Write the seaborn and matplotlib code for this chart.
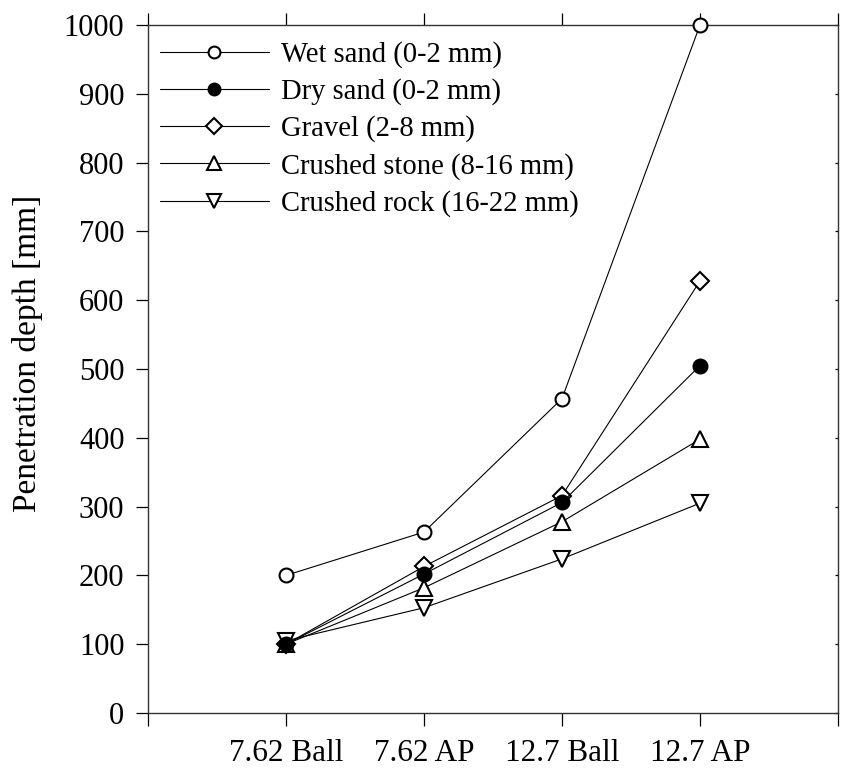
import matplotlib
matplotlib.use("Agg")
import matplotlib.pyplot as plt
import seaborn as sns
import pandas as pd

categories = ["7.62 Ball", "7.62 AP", "12.7 Ball", "12.7 AP"]
wet_sand = [200, 263, 457, 1000]
dry_sand = [100, 202, 306, 505]
gravel = [100, 213, 316, 628]
crushed_stone = [100, 182, 278, 398]
crushed_rock = [105, 153, 224, 305]

labels = ["Wet sand (0-2 mm)", "Dry sand (0-2 mm)", "Gravel (2-8 mm)",
          "Crushed stone (8-16 mm)", "Crushed rock (16-22 mm)"]
series = [wet_sand, dry_sand, gravel, crushed_stone, crushed_rock]
markers = ["o", "o", "D", "^", "v"]
faces = ["white", "black", "white", "white", "white"]
msizes = [10, 10, 9.5, 12, 12]
zorders = [3, 6, 4, 4, 4]

sns.set_theme(style="white")
plt.rcParams["font.family"] = ["Liberation Serif", "DejaVu Serif"]
for k in ["text.color", "axes.labelcolor", "xtick.color", "ytick.color"]:
    plt.rcParams[k] = "black"

fig = plt.figure(figsize=(8.41, 7.73), dpi=100)
ax = fig.add_axes([148 / 841, 60 / 773, 690 / 841, 688 / 773])

for lab, vals, m, fc, ms, z in zip(labels, series, markers, faces, msizes, zorders):
    df = pd.DataFrame({"cat": categories, "val": vals})
    sns.lineplot(data=df, x="cat", y="val", ax=ax, color="black", lw=0.8,
                 marker=m, markersize=ms, markerfacecolor=fc,
                 markeredgecolor="black", markeredgewidth=1.5,
                 label=lab, zorder=z, clip_on=False, sort=False)

ax.set_xlim(-1, 4)
ax.set_ylim(0, 1000)
ax.set_xticks(range(-1, 5))
ax.set_xticklabels([""] + categories + [""], fontsize=22.5)
ax.set_yticks(range(0, 1001, 100))
ax.tick_params(axis="y", labelsize=22)
ax.tick_params(axis="both", direction="out", length=9, width=0.9, color="black",
               top=True, bottom=True, left=True, right=False, pad=8)
ax.tick_params(axis="y", which="major", right=True)
ax.tick_params(axis="x", pad=10)
for t in ax.yaxis.get_ticklines()[1::2]:
    t.set_markersize(2)
    t.set_marker(0)  # inward-pointing stub on the right spine
ax.set_xlabel("")
ax.set_ylabel("Penetration depth [mm]", fontsize=24)
ax.yaxis.set_label_coords(-0.152, 0.523)
for s in ax.spines.values():
    s.set_color("#333333")
    s.set_linewidth(1.0)

leg = ax.legend(loc="upper left", bbox_to_anchor=(-0.006, 1.0), frameon=False,
                fontsize=20.6, handlelength=3.8, handletextpad=0.45,
                labelspacing=0.36, borderaxespad=0.0, borderpad=0.56,
                markerscale=0.85)
for t in leg.get_texts():
    t.set_color("black")

fig.savefig("out.png", dpi=100)
